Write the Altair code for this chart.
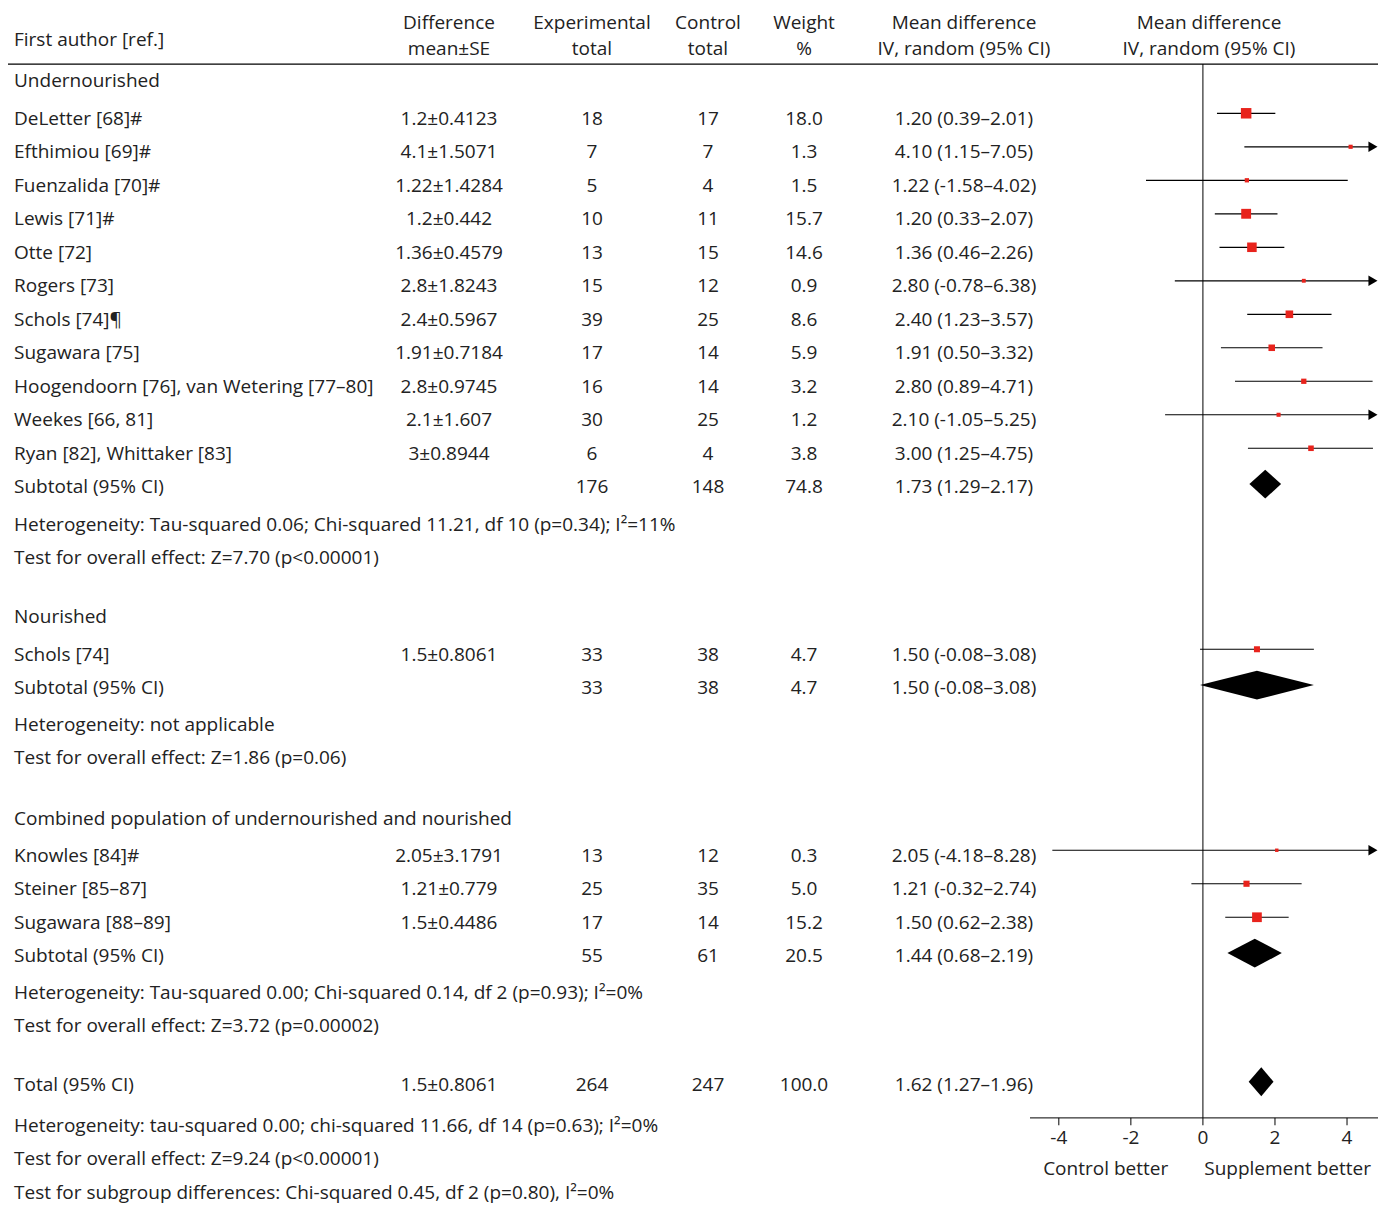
import altair as alt
import pandas as pd

# ---- study rows ----
names = ["DeLetter [68]#", "Efthimiou [69]#", "Fuenzalida [70]#", "Lewis [71]#", "Otte [72]",
         "Rogers [73]", "Schols [74]¶", "Sugawara [75]", "Hoogendoorn [76], van Wetering [77–80]",
         "Weekes [66, 81]", "Ryan [82], Whittaker [83]",
         "Schols [74]",
         "Knowles [84]#", "Steiner [85–87]", "Sugawara [88–89]"]
diffs = ["1.2±0.4123", "4.1±1.5071", "1.22±1.4284", "1.2±0.442", "1.36±0.4579", "2.8±1.8243",
         "2.4±0.5967", "1.91±0.7184", "2.8±0.9745", "2.1±1.607", "3±0.8944",
         "1.5±0.8061",
         "2.05±3.1791", "1.21±0.779", "1.5±0.4486"]
exp_n = [18, 7, 5, 10, 13, 15, 39, 17, 16, 30, 6, 33, 13, 25, 17]
ctl_n = [17, 7, 4, 11, 15, 12, 25, 14, 14, 25, 4, 38, 12, 35, 14]
weights = [18.0, 1.3, 1.5, 15.7, 14.6, 0.9, 8.6, 5.9, 3.2, 1.2, 3.8, 4.7, 0.3, 5.0, 15.2]
est = [1.20, 4.10, 1.22, 1.20, 1.36, 2.80, 2.40, 1.91, 2.80, 2.10, 3.00, 1.50, 2.05, 1.21, 1.50]
lo = [0.39, 1.15, -1.58, 0.33, 0.46, -0.78, 1.23, 0.50, 0.89, -1.05, 1.25, -0.08, -4.18, -0.32, 0.62]
hi = [2.01, 7.05, 4.02, 2.07, 2.26, 6.38, 3.57, 3.32, 4.71, 5.25, 4.75, 3.08, 8.28, 2.74, 2.38]
study_rows = [3, 4, 5, 6, 7, 8, 9, 10, 11, 12, 13, 19, 25, 26, 27]

# ---- subtotals / total ----
sub_labels = ["Subtotal (95% CI)", "Subtotal (95% CI)", "Subtotal (95% CI)", "Total (95% CI)"]
sub_diff = ["", "", "", "1.5±0.8061"]
sub_exp = [176, 33, 55, 264]
sub_ctl = [148, 38, 61, 247]
sub_w = ["74.8", "4.7", "20.5", "100.0"]
sub_est = [1.73, 1.50, 1.44, 1.62]
sub_lo = [1.29, -0.08, 0.68, 1.27]
sub_hi = [2.17, 3.08, 2.19, 1.96]
sub_rows = [14, 20, 28, 31.84]

# ---- free text lines ----
notes = ["Undernourished",
         "Heterogeneity: Tau-squared 0.06; Chi-squared 11.21, df 10 (p=0.34); I²=11%",
         "Test for overall effect: Z=7.70 (p<0.00001)",
         "Nourished",
         "Heterogeneity: not applicable",
         "Test for overall effect: Z=1.86 (p=0.06)",
         "Combined population of undernourished and nourished",
         "Heterogeneity: Tau-squared 0.00; Chi-squared 0.14, df 2 (p=0.93); I²=0%",
         "Test for overall effect: Z=3.72 (p=0.00002)",
         "Heterogeneity: tau-squared 0.00; chi-squared 11.66, df 14 (p=0.63); I²=0%",
         "Test for overall effect: Z=9.24 (p<0.00001)",
         "Test for subgroup differences: Chi-squared 0.45, df 2 (p=0.80), I²=0%"]
note_rows = [1.87, 15.12, 16.1, 17.87, 21.1, 22.07, 23.9, 29.09, 30.07, 33.06, 34.04, 35.06]

ticks = [-4, -2, 0, 2, 4]
XMIN, XMAX = -4.8, 4.86
ARROW_END = 4.72
FONT = "Open Sans"
FS = 19


def ci(e, l, h):
    return f"{e:.2f} ({l:.2f}–{h:.2f})"


cells = []
for i in range(len(names)):
    r = study_rows[i]
    cells += [(r, "name", names[i]), (r, "diff", diffs[i]), (r, "exp", str(exp_n[i])),
              (r, "ctl", str(ctl_n[i])), (r, "w", f"{weights[i]:.1f}"), (r, "ci", ci(est[i], lo[i], hi[i]))]
for i in range(len(sub_labels)):
    r = sub_rows[i]
    cells += [(r, "name", sub_labels[i]), (r, "diff", sub_diff[i]), (r, "exp", str(sub_exp[i])),
              (r, "ctl", str(sub_ctl[i])), (r, "w", sub_w[i]), (r, "ci", ci(sub_est[i], sub_lo[i], sub_hi[i]))]
for t, r in zip(notes, note_rows):
    cells.append((r, "name", t))
cells += [(0.64, "name", "First author [ref.]"),
          (0.12, "diff", "Difference"), (0.92, "diff", "mean±SE"),
          (0.12, "exp", "Experimental"), (0.92, "exp", "total"),
          (0.12, "ctl", "Control"), (0.92, "ctl", "total"),
          (0.12, "w", "Weight"), (0.92, "w", "%"),
          (0.12, "ci", "Mean difference"), (0.92, "ci", "IV, random (95% CI)"),
          (0.12, "fp", "Mean difference"), (0.92, "fp", "IV, random (95% CI)")]
text_df = pd.DataFrame(cells, columns=["row", "col", "text"])

col_x = {"name": 6, "diff": 441, "exp": 584, "ctl": 700, "w": 796, "ci": 956, "fp": 1201}
ydom = alt.Scale(domain=[-0.313, 35.45], reverse=True)
xsc = alt.Scale(domain=[XMIN, XMAX], range=[1022, 1370])

layers = []
for c, x in col_x.items():
    sub = text_df[text_df.col == c]
    layers.append(alt.Chart(sub).mark_text(
        align="left" if c == "name" else "center", baseline="middle",
        font=FONT, fontSize=FS, color="#222").encode(
        x=alt.value(x), y=alt.Y("row:Q", scale=ydom, axis=None), text="text:N"))

# header rule
layers.append(alt.Chart(pd.DataFrame({"row": [1.36]})).mark_rule(color="black", strokeWidth=1.2).encode(
    x=alt.value(0), x2=alt.value(1370), y=alt.Y("row:Q", scale=ydom)))

AX = 32.82
# vertical zero line
layers.append(alt.Chart(pd.DataFrame({"x": [0], "r1": [1.36], "r2": [AX]})).mark_rule(color="black").encode(
    x=alt.X("x:Q", scale=xsc, axis=None), y=alt.Y("r1:Q", scale=ydom), y2="r2:Q"))
# bottom axis
layers.append(alt.Chart(pd.DataFrame({"a": [XMIN], "b": [XMAX], "r": [AX]})).mark_rule(color="black").encode(
    x=alt.X("a:Q", scale=xsc), x2="b:Q", y=alt.Y("r:Q", scale=ydom)))
tk = pd.DataFrame({"t": ticks, "r1": AX, "r2": AX + 0.22, "lab": [str(t) for t in ticks], "rl": AX + 0.6})
layers.append(alt.Chart(tk).mark_rule(color="black").encode(
    x=alt.X("t:Q", scale=xsc), y=alt.Y("r1:Q", scale=ydom), y2="r2:Q"))
layers.append(alt.Chart(tk).mark_text(font=FONT, fontSize=FS, color="#222").encode(
    x=alt.X("t:Q", scale=xsc), y=alt.Y("rl:Q", scale=ydom), text="lab:N"))
lab = pd.DataFrame({"x": [-2.7, 2.35], "r": [AX + 1.52] * 2, "t": ["Control better", "Supplement better"]})
layers.append(alt.Chart(lab).mark_text(font=FONT, fontSize=FS, color="#222").encode(
    x=alt.X("x:Q", scale=xsc), y=alt.Y("r:Q", scale=ydom), text="t:N"))

# study CIs
st = pd.DataFrame({"row": [r - 0.17 for r in study_rows], "est": est,
                   "lo": [max(v, XMIN) for v in lo], "hi": [min(v, ARROW_END) for v in hi],
                   "w": weights, "arrow": [v > XMAX for v in hi]})
layers.append(alt.Chart(st).mark_rule(color="black", strokeWidth=1.2).encode(
    x=alt.X("lo:Q", scale=xsc), x2="hi:Q", y=alt.Y("row:Q", scale=ydom)))
layers.append(alt.Chart(st[st.arrow]).mark_point(shape="triangle-right", filled=True, color="black",
                                                  opacity=1, size=110).encode(
    x=alt.X("hi:Q", scale=xsc), y=alt.Y("row:Q", scale=ydom)))
layers.append(alt.Chart(st).mark_square(color="#e8231c", opacity=1).encode(
    x=alt.X("est:Q", scale=xsc), y=alt.Y("row:Q", scale=ydom),
    size=alt.Size("w:Q", scale=alt.Scale(domain=[0, 18], range=[10, 110]), legend=None)))

# diamonds
dpts = []
for i in range(len(sub_rows)):
    r = sub_rows[i] - 0.1
    h = 0.43
    dpts += [(i, sub_lo[i], r, r), (i, sub_est[i], r - h, r + h), (i, sub_hi[i], r, r)]
dd = pd.DataFrame(dpts, columns=["g", "x", "y1", "y2"])
layers.append(alt.Chart(dd).mark_area(color="black", opacity=1).encode(
    x=alt.X("x:Q", scale=xsc), y=alt.Y("y1:Q", scale=ydom), y2="y2:Q", detail="g:N"))

chart = alt.layer(*layers).properties(width=1375, height=1198, autosize="none", padding=0).configure_view(
    stroke=None)
chart.save("out.html", embed_options={"renderer": "svg", "actions": False})
